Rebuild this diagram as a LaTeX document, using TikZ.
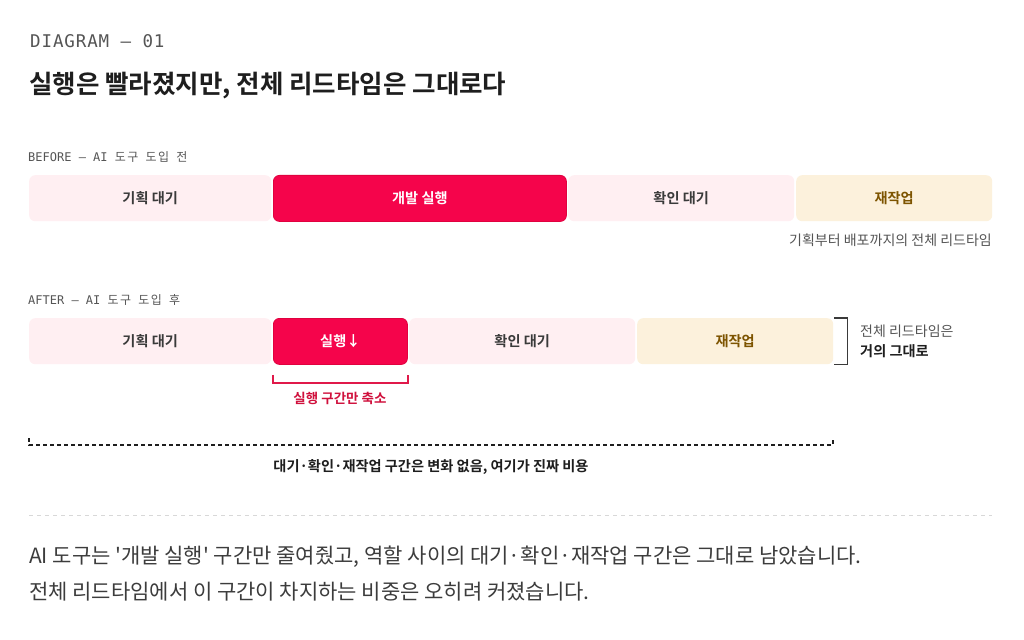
\documentclass[tikz,border=0pt]{standalone}
\usepackage{fontspec}
\setmainfont{Noto Sans CJK KR}[BoldFont={Noto Sans CJK KR Bold}]
\newfontfamily\plainkr{Noto Sans CJK KR}
\newfontfamily\hdrmono{DejaVu Sans Mono}[LetterSpace=5]
\newfontfamily\monofont{DejaVu Sans Mono}
\newfontfamily\krmono{Noto Sans CJK KR}[LetterSpace=12]
\newcommand{\msp}{{\monofont\ }}
\definecolor{pinkbg}{HTML}{FFEFF2}
\definecolor{redbox}{HTML}{F5044B}
\definecolor{redborder}{HTML}{E0023F}
\definecolor{redline}{HTML}{E0194A}
\definecolor{redtext}{HTML}{D0103C}
\definecolor{cream}{HTML}{FCF1DC}
\definecolor{brown}{HTML}{7D5400}
\definecolor{ink}{HTML}{1E1E1E}
\definecolor{boxtext}{HTML}{3A3A3A}
\definecolor{graytext}{HTML}{555555}
\definecolor{bodytext}{HTML}{3C3C3C}
\definecolor{sep}{HTML}{D8D8D8}
\begin{document}
\begin{tikzpicture}[x=1pt,y=-1pt,
  seg/.style={rounded corners=6pt, minimum height=46pt, inner sep=0pt, anchor=north west,
    font=\fontsize{14.2}{17}\selectfont\bfseries},
  wait/.style={seg, fill=pinkbg, text=boxtext},
  exec/.style={seg, fill=redbox, draw=redborder, line width=0.8pt, text=white},
  rework/.style={seg, fill=cream, text=brown},
  lbl/.style={inner sep=0pt, anchor=west},
  monolbl/.style={lbl, text=graytext, font=\fontsize{12}{14}\selectfont},
  note/.style={inner sep=0pt, font=\fontsize{14}{16}\selectfont},
  brk/.style={line width=1.5pt},
  body/.style={lbl, text=bodytext, font=\fontsize{21}{25}\selectfont\plainkr},
]
\useasboundingbox[fill=white] (0,0) rectangle (1024,639);

% header
\node[lbl, text=graytext, font=\fontsize{17.5}{20}\selectfont\hdrmono] (hdr) at (30,41.5) {DIAGRAM — 01};
\node[lbl, text=ink, font=\fontsize{25.5}{30}\selectfont\bfseries] (title) at (29,86) {실행은 빨라졌지만, 전체 리드타임은 그대로다};

% before
\node[monolbl] (before) at (28,157) {{\monofont BEFORE — AI }{\krmono 도구}\msp{\krmono 도입}\msp{\krmono 전}};
\node[wait, minimum width=242pt] (b1) at (29,175) {기획 대기};
\node[exec, minimum width=293pt] (b2) at (273,175) {개발 실행};
\node[wait, minimum width=226pt] (b3) at (568,175) {확인 대기};
\node[rework, minimum width=196pt] (b4) at (796,175) {재작업};
\node[note, anchor=east, text=graytext] (total) at (992,240) {기획부터 배포까지의 전체 리드타임};

% after
\node[monolbl] (after) at (28,300) {{\monofont AFTER — AI }{\krmono 도구}\msp{\krmono 도입}\msp{\krmono 후}};
\node[wait, minimum width=242pt] (a1) at (29,318) {기획 대기};
\node[exec, minimum width=134pt] (a2) at (273,318) {실행↓};
\node[wait, minimum width=226pt] (a3) at (409,318) {확인 대기};
\node[rework, minimum width=196pt] (a4) at (637,318) {재작업};

% right bracket
\draw[brk, draw=boxtext] ([xshift=1pt]a4.north east) -- ++(13,0) coordinate (rt) |- ([xshift=1pt]a4.south east);
\node[note, anchor=west, text=graytext] (same1) at (860,331) {전체 리드타임은};
\node[note, anchor=west, text=ink, font=\fontsize{14.2}{16}\selectfont\bfseries] (same2) at (860,351.5) {거의 그대로};

% red bracket
\draw[brk, draw=redline] ([yshift=-10pt]a2.south west) -- ++(0,8) coordinate (rl) -| ([yshift=-10pt]a2.south east);
\node[note, text=redtext, font=\fontsize{13.5}{16}\selectfont\bfseries] (shrink) at (340,398.5) {실행 구간만 축소};

% dashed span
\coordinate (dl) at (29,438);
\coordinate (dr) at (833,438);
\draw[line width=1.3pt, draw=ink, dash pattern=on 4pt off 3pt] (dl) -- ++(0,7) -- ++(804,0) -- (dr);
\node[note, text=ink, font=\fontsize{14.2}{16}\selectfont\bfseries] (cost) at (431,467) {대기·확인·재작업 구간은 변화 없음, 여기가 진짜 비용};

% separator
\coordinate (s1) at (29,515);
\coordinate (s2) at (992,515);
\draw[line width=1pt, draw=sep, dash pattern=on 4pt off 4pt] (s1) -- (s2);

% body text
\node[body] (body1) at (29,557) {AI 도구는 '개발 실행' 구간만 줄여줬고, 역할 사이의 대기·확인·재작업 구간은 그대로 남았습니다.};
\node[body] (body2) at (29,592) {전체 리드타임에서 이 구간이 차지하는 비중은 오히려 커졌습니다.};
\end{tikzpicture}
\end{document}
